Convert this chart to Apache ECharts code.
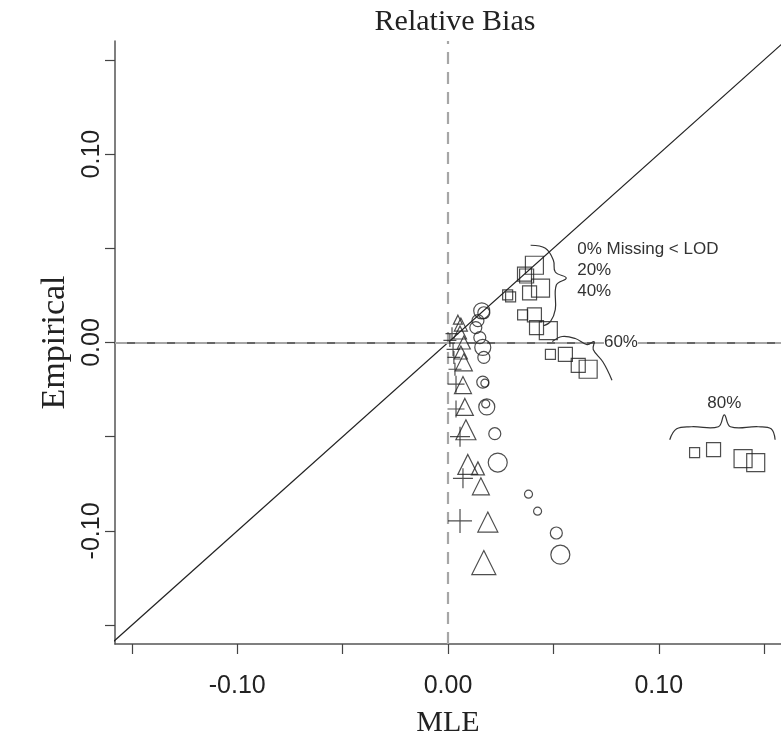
<!DOCTYPE html>
<html>
<head>
<meta charset="utf-8">
<script src="https://cdn.jsdelivr.net/npm/echarts@6/dist/echarts.min.js"></script>
<style>
html, body { margin: 0; padding: 0; background: #fff; }
#chart { width: 781px; height: 743px; }
</style>
</head>
<body>
<div id="chart"></div>
<script>
// each point: [MLE relative bias, Empirical relative bias, size class]
var plusPts = [
    [0.0009, 0.0011, 2], [0.0019, 0.0047, 2], [0.0024, -0.0037, 2], [0.0028, -0.0079, 2],
    [0.0033, -0.0142, 2], [0.0038, -0.0221, 3], [0.0038, -0.0353, 3], [0.0057, -0.0500, 4],
    [0.0071, -0.0721, 4], [0.0057, -0.0947, 5]
]
var trianglePts = [
    [0.0047, 0.0121, 1], [0.0061, 0.0095, 2], [0.0057, 0.0053, 2], [0.0075, 0.0000, 2],
    [0.0061, -0.0053, 2], [0.0075, -0.0105, 3], [0.0071, -0.0226, 3], [0.0080, -0.0342, 3],
    [0.0085, -0.0463, 4], [0.0094, -0.0647, 4], [0.0142, -0.0668, 2], [0.0156, -0.0763, 3],
    [0.0189, -0.0953, 4], [0.0170, -0.1168, 5]
]
var circlePts = [
    [0.0160, 0.0168, 3], [0.0170, 0.0158, 2], [0.0142, 0.0116, 2], [0.0132, 0.0079, 2],
    [0.0151, 0.0026, 2], [0.0165, -0.0026, 3], [0.0170, -0.0079, 2], [0.0165, -0.0210, 2],
    [0.0175, -0.0216, 1], [0.0184, -0.0342, 3], [0.0179, -0.0326, 1], [0.0222, -0.0484, 2],
    [0.0236, -0.0637, 4], [0.0382, -0.0805, 1], [0.0425, -0.0895, 1], [0.0514, -0.1011, 2],
    [0.0533, -0.1126, 4]
]
var squarePts = [
    [0.0283, 0.0253, 1], [0.0297, 0.0242, 1], [0.0363, 0.0363, 2], [0.0373, 0.0353, 2],
    [0.0410, 0.0410, 3], [0.0387, 0.0263, 2], [0.0439, 0.0289, 3], [0.0354, 0.0147, 1],
    [0.0410, 0.0147, 2], [0.0420, 0.0079, 2], [0.0476, 0.0063, 3],
    [0.0486, -0.0063, 1], [0.0557, -0.0063, 2], [0.0618, -0.0121, 2], [0.0665, -0.0142, 3],
    [0.1170, -0.0584, 1], [0.1260, -0.0568, 2], [0.1400, -0.0616, 3], [0.1460, -0.0637, 3]
]
var tickValues = [-0.15, -0.10, -0.05, 0, 0.05, 0.10, 0.15]
var labelValues = [-0.10, 0, 0.10]
var missingLabels = ['0% Missing < LOD', '20%', '40%', '60%', '80%']

var sizeScale = { 1: 8, 2: 12, 3: 16, 4: 19, 5: 23 }
var ink = '#222'
var plusPath = 'path://M0,10L20,10M10,0L10,20'

var chart = echarts.init(document.getElementById('chart'))

function markerSeries(data, symbol, grow) {
    return {
        type: 'scatter',
        data: data,
        symbol: symbol,
        symbolSize: function (v) { return sizeScale[v[2]] + grow },
        itemStyle: { color: 'rgba(0,0,0,0)', borderColor: ink, borderWidth: 1.2 },
        emphasis: { disabled: true },
        silent: true,
        z: 5
    }
}

function axisBase(ticks, labels, rotate, margin) {
    return {
        type: 'value',
        min: -0.158,
        max: 0.158,
        splitLine: { show: false },
        axisLine: { show: true, onZero: false, lineStyle: { color: '#555', width: 1.5 } },
        axisTick: { show: true, customValues: ticks, length: 10, lineStyle: { color: '#444', width: 1.2 } },
        axisLabel: {
            customValues: labels,
            rotate: rotate,
            margin: margin,
            fontFamily: 'Liberation Sans',
            fontSize: 25,
            color: ink,
            formatter: function (v) { return v.toFixed(2) }
        }
    }
}

var xMain = axisBase(tickValues, labelValues, 0, 30)
xMain.name = 'MLE'
xMain.nameLocation = 'middle'
xMain.nameGap = 64
xMain.nameTextStyle = { fontFamily: 'Liberation Serif', fontSize: 30, color: ink }

var yMain = axisBase(tickValues, labelValues, 90, 10)
yMain.min = -0.16
yMain.max = 0.16
yMain.name = 'Empirical'
yMain.nameLocation = 'middle'
yMain.nameGap = 42
yMain.nameTextStyle = { fontFamily: 'Liberation Serif', fontSize: 34, color: ink }

chart.setOption({
    animation: false,
    title: {
        text: 'Relative Bias',
        left: 450,
        top: 2,
        textAlign: 'center',
        textStyle: { fontFamily: 'Liberation Serif', fontSize: 30, fontWeight: 'normal', color: ink }
    },
    grid: { left: 115, top: 41, width: 670, height: 608 },
    xAxis: [xMain, {
        type: 'value', position: 'top', min: -0.158, max: 0.158,
        axisLine: { show: true, lineStyle: { color: '#333', width: 1.5 } },
        axisTick: { show: false }, axisLabel: { show: false }, splitLine: { show: false }
    }],
    yAxis: yMain,
    series: [
        {
            type: 'line',
            data: [[-0.2, -0.2], [0.2, 0.2]],
            showSymbol: false,
            clip: true,
            silent: true,
            lineStyle: { color: ink, width: 1.2 },
            markLine: {
                silent: true,
                symbol: 'none',
                label: { show: false },
                lineStyle: { color: '#a6a6a6', width: 2.2, type: [12, 8] },
                data: [{ xAxis: 0 }, { yAxis: 0 }]
            },
            z: 3
        },
        markerSeries(plusPts, plusPath, 1),
        markerSeries(trianglePts, 'triangle', 1),
        markerSeries(circlePts, 'circle', 0),
        markerSeries(squarePts, 'rect', 2)
    ]
})

// brace annotations, given in data coordinates
var braces = [
    [[0.0392, 0.0516], [0.0462, 0.0500], [0.0500, 0.0437], [0.0509, 0.0374], [0.0561, 0.0342],
     [0.0514, 0.0305], [0.0509, 0.0174], [0.0486, 0.0111], [0.0453, 0.0089]],
    [[0.0495, 0.0005], [0.0542, 0.0032], [0.0604, 0.0021], [0.0660, -0.0011], [0.0693, 0.0005],
     [0.0689, -0.0037], [0.0736, -0.0105], [0.0778, -0.0200]],
    [[0.1052, -0.0516], [0.1085, -0.0458], [0.1156, -0.0447], [0.1283, -0.0447], [0.1311, -0.0384],
     [0.1340, -0.0447], [0.1472, -0.0447], [0.1533, -0.0458], [0.1552, -0.0516]]
]
var labelAnchors = [
    [0.0613, 0.0495, 'left'], [0.0613, 0.0384, 'left'], [0.0613, 0.0274, 'left'],
    [0.0740, 0.0000, 'left'], [0.1311, -0.0321, 'center']
]
var graphics = []
braces.forEach(function (b) {
    graphics.push({
        type: 'polyline',
        shape: { points: b.map(function (p) { return chart.convertToPixel({ gridIndex: 0 }, p) }), smooth: 0.4 },
        style: { fill: null, stroke: '#333', lineWidth: 1.2 },
        z: 10
    })
})
labelAnchors.forEach(function (a, i) {
    var px = chart.convertToPixel({ gridIndex: 0 }, [a[0], a[1]])
    graphics.push({
        type: 'text',
        x: px[0],
        y: px[1],
        style: {
            text: missingLabels[i],
            fontFamily: 'Liberation Sans',
            fontSize: 17,
            fill: '#333',
            align: a[2],
            verticalAlign: 'middle',
            backgroundColor: i === 3 ? '#fff' : null
        },
        z: 10
    })
})
chart.setOption({ graphic: graphics })
</script>
</body>
</html>
